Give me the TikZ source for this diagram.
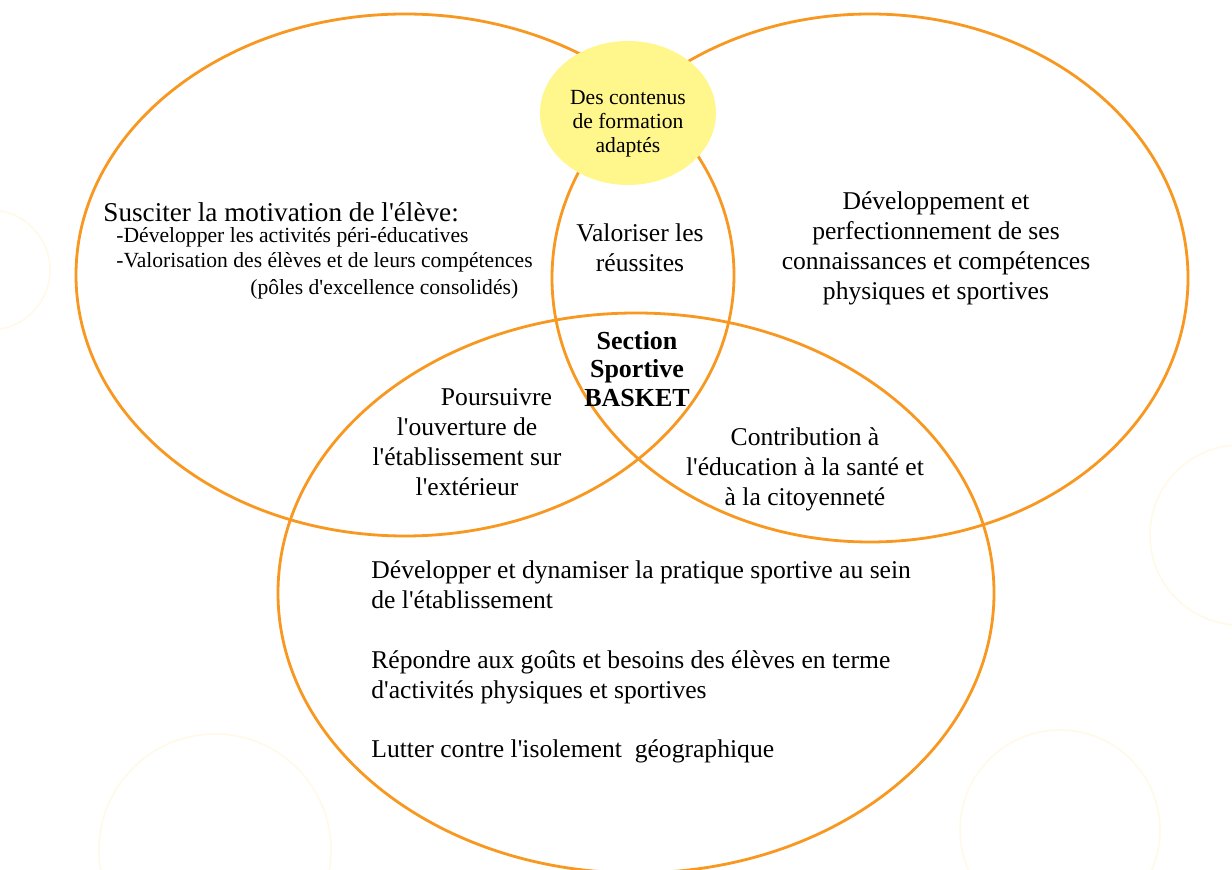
\documentclass[tikz,border=0pt]{standalone}
\usepackage{fontspec}
\setmainfont{Liberation Serif}
\usetikzlibrary{shapes.geometric}
\definecolor{ringorange}{RGB}{248,152,32}
\definecolor{softyellow}{RGB}{255,247,140}
\definecolor{faintyellow}{RGB}{255,250,232}
\newcommand{\ap}{\textquotesingle}
\tikzset{
  ring/.style={draw=ringorange, line width=1.4pt},
  faint/.style={draw=faintyellow, line width=0.8pt},
  txt/.style={inner sep=0pt, font=\fontsize{12.8}{15}\selectfont, align=center},
  subtxt/.style={inner sep=0pt, font=\fontsize{10.8}{12.5}\selectfont},
}
\begin{document}
\begin{tikzpicture}[x=0.5pt,y=-0.5pt]
\useasboundingbox (0,0) rectangle (1232,870);
\fill[white] (0,0) rectangle (1232,870);
% faint background circles
\draw[faint] (215,850) circle [radius=58pt];
\draw[faint] (1060,830) circle [radius=50pt];
\draw[faint] (1240,535) circle [radius=45pt];
\draw[faint] (-10,270) circle [radius=30pt];
% main rings
\draw[ring] (405,275) ellipse [x radius=164.5pt, y radius=130.5pt];
\draw[ring] (870,278) ellipse [x radius=159pt, y radius=132pt];
\draw[ring] (636,593) ellipse [x radius=179pt, y radius=140pt];
% yellow centre top
\node[fill=softyellow, ellipse, minimum width=88pt, minimum height=72pt, inner sep=0pt] (top) at (628,113) {};
\node[inner sep=0pt, align=center, font=\fontsize{10.8}{12}\selectfont] (toptxt) at (628,124) {Des contenus\\de formation\\adaptés};
% left block
\node[inner sep=0pt, anchor=west, font=\fontsize{13.6}{15}\selectfont] (l1) at (103,212) {Susciter la motivation de l\ap élève:};
\node[subtxt, anchor=west] (l2) at (116,237) {-Développer les activités péri-éducatives};
\node[subtxt, anchor=west] (l3) at (116,262) {-Valorisation des élèves et de leurs compétences};
\node[subtxt, anchor=west] (l4) at (250,289) {(pôles d\ap excellence consolidés)};
% right block
\node[txt] (r) at (936,248) {Développement et\\perfectionnement de ses\\connaissances et compétences\\physiques et sportives};
% intersections
\node[txt] (val) at (640,248) {Valoriser les\\réussites};
\node[txt, font=\bfseries\fontsize{13}{14.25}\selectfont] (sec) at (637,369) {Section\\Sportive\\BASKET};
\node[txt] (pours) at (467,442) {\hspace*{2.3em}Poursuivre\\l\ap ouverture de\\l\ap établissement sur\\l\ap extérieur};
\node[txt] (contrib) at (805,469) {Contribution à\\l\ap éducation à la santé et\\à la citoyenneté};
% bottom block
\node[txt, align=left, anchor=west] (b1) at (371,585) {Développer et dynamiser la pratique sportive au sein\\de l\ap établissement};
\node[txt, align=left, anchor=west] (b2) at (371,677) {Répondre aux goûts et besoins des élèves en terme\\d\ap activités physiques et sportives};
\node[txt, align=left, anchor=west] (b3) at (371,751) {Lutter contre l\ap isolement\ \ géographique};
\end{tikzpicture}
\end{document}
